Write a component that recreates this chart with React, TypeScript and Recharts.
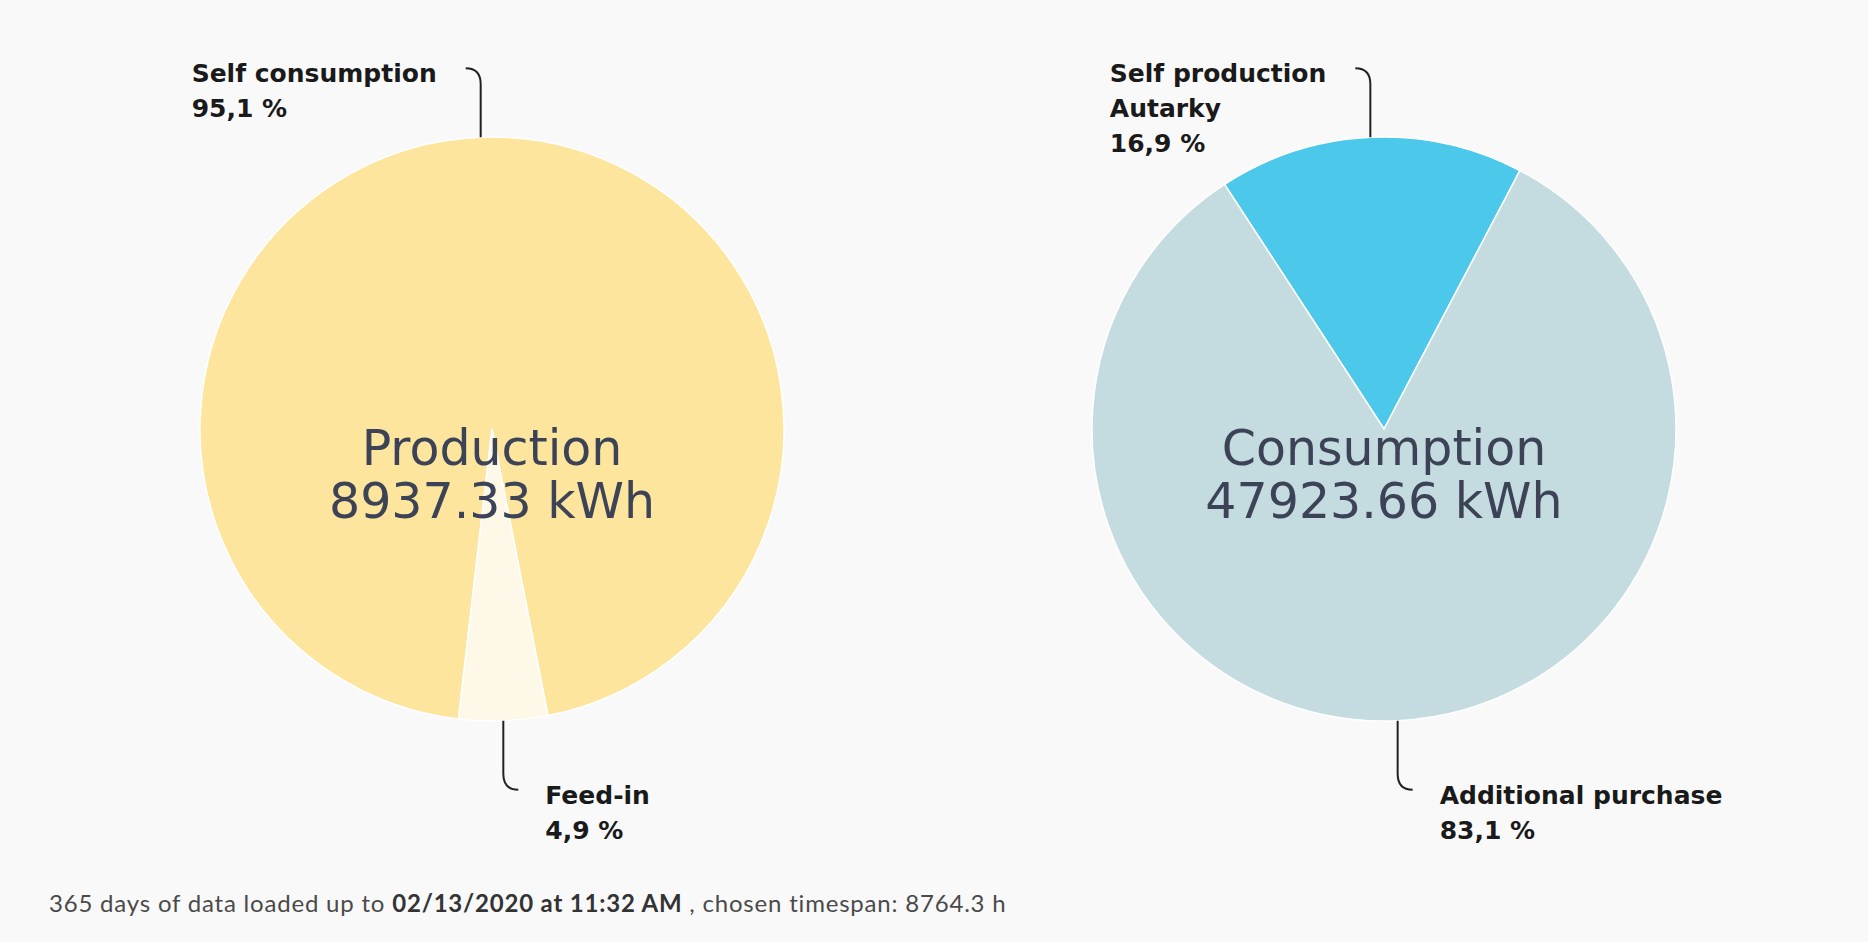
import React from 'react';
import { PieChart, Pie, Cell } from 'recharts';

// ---- data ----
const productionCategories = ['Self consumption', 'Feed-in'];
const productionShares = [95.1, 4.9];
const productionTitle = 'Production';
const productionTotal = 8937.33;

const consumptionCategories = ['Self production|Autarky', 'Additional purchase'];
const consumptionShares = [16.9, 83.1];
const consumptionTitle = 'Consumption';
const consumptionTotal = 47923.66;

const footerBefore = '365 days of data loaded up to ';
const footerDate = '02/13/2020 at 11:32 AM';
const footerAfter = ' , chosen timespan: 8764.3 h';

// ---- styles ----
const productionColors = ['#FDE59D', '#FEF8E9'];
const consumptionColors = ['#4CC9EA', '#C4DCE0'];
const BG = '#F9F9F9';
const W = 1868;
const H = 942;
const RADIUS = 292;
const CY = 429;
const CX_LEFT = 492;
const CX_RIGHT = 1384;
const LABEL_FONT_SIZE = 25;
const LABEL_FONT_FAMILY = '"DejaVu Sans", sans-serif';
const LINE_H = 35;

const productionData = productionCategories.map((name, i) => ({ name, value: productionShares[i] }));
const consumptionData = consumptionCategories.map((name, i) => ({ name, value: consumptionShares[i] }));

let ctx: CanvasRenderingContext2D | null = null;
function measure(text: string): number {
  if (!ctx) {
    const c = document.createElement('canvas');
    ctx = c.getContext('2d');
  }
  if (!ctx) return text.length * LABEL_FONT_SIZE * 0.62;
  ctx.font = `bold ${LABEL_FONT_SIZE}px "DejaVu Sans"`;
  return ctx.measureText(text).width;
}

const fmtPct = (v: number) => `${v.toFixed(1).replace('.', ',')} %`;

const renderLabel = (props: any) => {
  const { cx, cy, midAngle, outerRadius, name, value } = props;
  const RAD = Math.PI / 180;
  const ex = cx + outerRadius * Math.cos(-midAngle * RAD);
  const ey = cy + outerRadius * Math.sin(-midAngle * RAD);
  const up = ey < cy;
  const dir = up ? -1 : 1;
  const hy = ey + dir * 69;
  const hx = ex + (up ? -15 : 15);
  const path = `M${ex},${ey} L${ex},${hy - dir * 16} Q${ex},${hy} ${hx},${hy}`;
  const lines = [...String(name).split('|'), fmtPct(value)];
  const w = Math.max(...lines.map(measure));
  const tx = up ? hx - 29 - w : hx + 27;
  const ty = hy + (up ? 14 : 14);
  return (
    <g>
      <path d={path} stroke="#222" strokeWidth={2} fill="none" />
      <text
        x={tx}
        y={ty}
        fontFamily={LABEL_FONT_FAMILY}
        fontWeight="bold"
        fontSize={LABEL_FONT_SIZE}
        fill="#1a1a1a"
        textAnchor="start"
      >
        {lines.map((l, i) => (
          <tspan key={i} x={tx} dy={i === 0 ? 0 : LINE_H}>
            {l}
          </tspan>
        ))}
      </text>
    </g>
  );
};

const CenterText = ({ cx, cy, title, total }: { cx: number; cy: number; title: string; total: number }) => (
  <g>
    <text x={cx} y={cy + 36} textAnchor="middle" fontFamily='"DejaVu Sans", sans-serif' fontSize={49} fill="#3d4357">
      {title}
    </text>
    <text x={cx} y={cy + 89} textAnchor="middle" fontFamily='"DejaVu Sans", sans-serif' fontSize={49} fill="#3d4357">
      {`${total.toFixed(2)} kWh`}
    </text>
  </g>
);

export default function App() {
  return (
    <div style={{ position: 'absolute', left: 0, top: 0, width: W, height: H, background: BG }}>
      <PieChart width={W} height={H} margin={{ top: 0, right: 0, bottom: 0, left: 0 }}>
        <Pie
          data={productionData}
          dataKey="value"
          nameKey="name"
          cx={CX_LEFT}
          cy={CY}
          outerRadius={RADIUS}
          startAngle={263.4}
          endAngle={-96.6}
          stroke="#ffffff"
          strokeWidth={1.5}
          label={renderLabel}
          labelLine={false}
          isAnimationActive={false}
        >
          {productionData.map((d, i) => (
            <Cell key={d.name} fill={productionColors[i]} />
          ))}
        </Pie>
        <Pie
          data={consumptionData}
          dataKey="value"
          nameKey="name"
          cx={CX_RIGHT}
          cy={CY}
          outerRadius={RADIUS}
          startAngle={123.1}
          endAngle={-236.9}
          stroke="#ffffff"
          strokeWidth={1.5}
          label={renderLabel}
          labelLine={false}
          isAnimationActive={false}
        >
          {consumptionData.map((d, i) => (
            <Cell key={d.name} fill={consumptionColors[i]} />
          ))}
        </Pie>
      </PieChart>
      <svg width={W} height={H} style={{ position: 'absolute', left: 0, top: 0, pointerEvents: 'none' }}>
        <CenterText cx={CX_LEFT} cy={CY} title={productionTitle} total={productionTotal} />
        <CenterText cx={CX_RIGHT} cy={CY} title={consumptionTitle} total={consumptionTotal} />
        <text x={49} y={912} fontFamily="Lato, sans-serif" fontSize={24} letterSpacing={0.8} fill="#4a4a4a">
          <tspan>{footerBefore}</tspan>
          <tspan fontWeight="bold" fill="#333">{footerDate}</tspan>
          <tspan>{footerAfter}</tspan>
        </text>
      </svg>
    </div>
  );
}
